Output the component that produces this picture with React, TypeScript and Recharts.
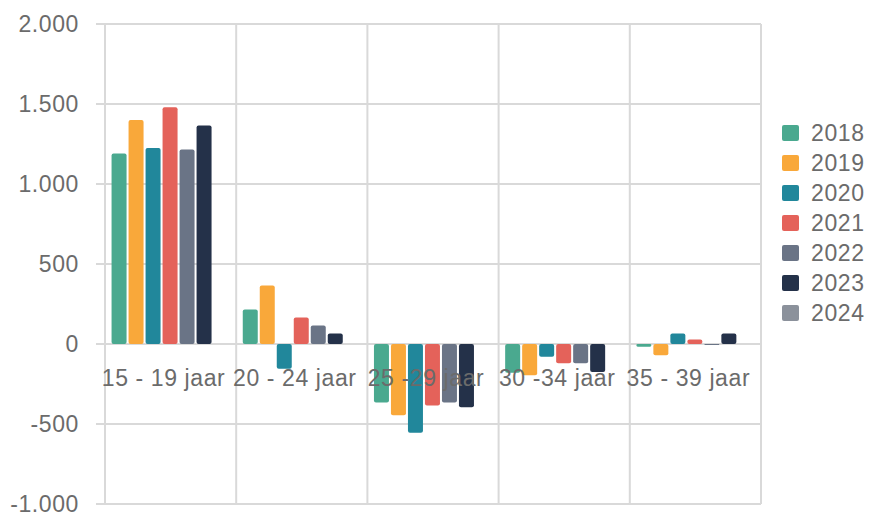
import React from "react";
import { BarChart, Bar, XAxis, YAxis, CartesianGrid, Legend } from "recharts";

const categories = ["15 - 19 jaar", "20 - 24 jaar", "25 -29 jaar", "30 -34 jaar", "35 - 39 jaar"];
const years = ["2018", "2019", "2020", "2021", "2022", "2023", "2024"];
const colors = ["#4aa98f", "#f9a83a", "#21879b", "#e4625a", "#6a7486", "#243149", "#8b919b"];

const v2018 = [1190, 215, -365, -180, -17];
const v2019 = [1400, 365, -445, -195, -70];
const v2020 = [1225, -155, -555, -80, 65];
const v2021 = [1480, 165, -385, -120, 28];
const v2022 = [1215, 115, -365, -120, -6];
const v2023 = [1365, 65, -395, -175, 65];
const v2024: (number | null)[] = [null, null, null, null, null];

const yTicks = [-1000, -500, 0, 500, 1000, 1500, 2000];

const series = [v2018, v2019, v2020, v2021, v2022, v2023, v2024];
const data = categories.map((c, i) => {
  const row: Record<string, any> = { name: c };
  years.forEach((y, k) => {
    row[y] = series[k][i];
  });
  return row;
});

const W = 869;
const H = 512;
const TOP = 24;
const BOTTOM_AXIS = 8;
const PLOT_H = H - TOP - BOTTOM_AXIS;
const Y_MIN = -1000;
const Y_MAX = 2000;
const ZERO_Y = TOP + (PLOT_H * (Y_MAX - 0)) / (Y_MAX - Y_MIN);

const FONT = "'Liberation Sans', Arial, sans-serif";
const TEXT = "#6b6b6b";
const GRID = "#d9d9d9";
const FS = 23;
const LS = 0.6;

const fmt = (n: number) => {
  const s = Math.abs(n).toString().replace(/\B(?=(\d{3})+(?!\d))/g, ".");
  return (n < 0 ? "-" : "") + s;
};

const XTick = (props: any) => {
  const { x, payload } = props;
  return (
    <text
      x={x - 7}
      y={ZERO_Y + 42}
      textAnchor="middle"
      fill={TEXT}
      fontSize={FS}
      letterSpacing={LS}
      fontFamily={FONT}
    >
      {payload.value}
    </text>
  );
};

const LegendContent = () => (
  <div style={{ fontFamily: FONT }}>
    {years.map((y, i) => (
      <div key={y} style={{ display: "flex", alignItems: "center", height: 30 }}>
        <div style={{ width: 17, height: 16, background: colors[i], borderRadius: 2, marginRight: 12 }} />
        <span style={{ fontSize: FS, letterSpacing: LS, color: TEXT }}>{y}</span>
      </div>
    ))}
  </div>
);

export default function App() {
  return (
    <div style={{ position: "absolute", left: 0, top: 0, width: W, height: H, background: "#fff" }}>
      <BarChart
        width={W}
        height={H}
        data={data}
        margin={{ top: TOP, right: 108, left: 0, bottom: 0 }}
        barCategoryGap="5%"
        barGap={2}
      >
        <CartesianGrid
          stroke={GRID}
          strokeWidth={2}
          verticalCoordinatesGenerator={({ offset }: any) =>
            categories.map((_, i) => offset.left + (i * offset.width) / categories.length).concat([offset.left + offset.width])
          }
        />
        <YAxis
          width={105}
          domain={[Y_MIN, Y_MAX]}
          ticks={yTicks}
          interval={0}
          tickFormatter={fmt}
          axisLine={{ stroke: GRID, strokeWidth: 2 }}
          tickLine={{ stroke: GRID, strokeWidth: 2 }}
          tickSize={9}
          tickMargin={17}
          tick={{ fill: TEXT, fontSize: FS, fontFamily: FONT, letterSpacing: LS }}
        />
        {years.map((y, i) => (
          <Bar key={y} dataKey={y} fill={colors[i]} radius={2} isAnimationActive={false} />
        ))}
        <XAxis
          dataKey="name"
          height={BOTTOM_AXIS}
          axisLine={false}
          tickLine={false}
          interval={0}
          tick={<XTick />}
        />
        <Legend
          layout="horizontal"
          align="center"
          verticalAlign="middle"
          content={<LegendContent />}
          wrapperStyle={{ left: 782, top: 118, width: 87 }}
        />
      </BarChart>
    </div>
  );
}
